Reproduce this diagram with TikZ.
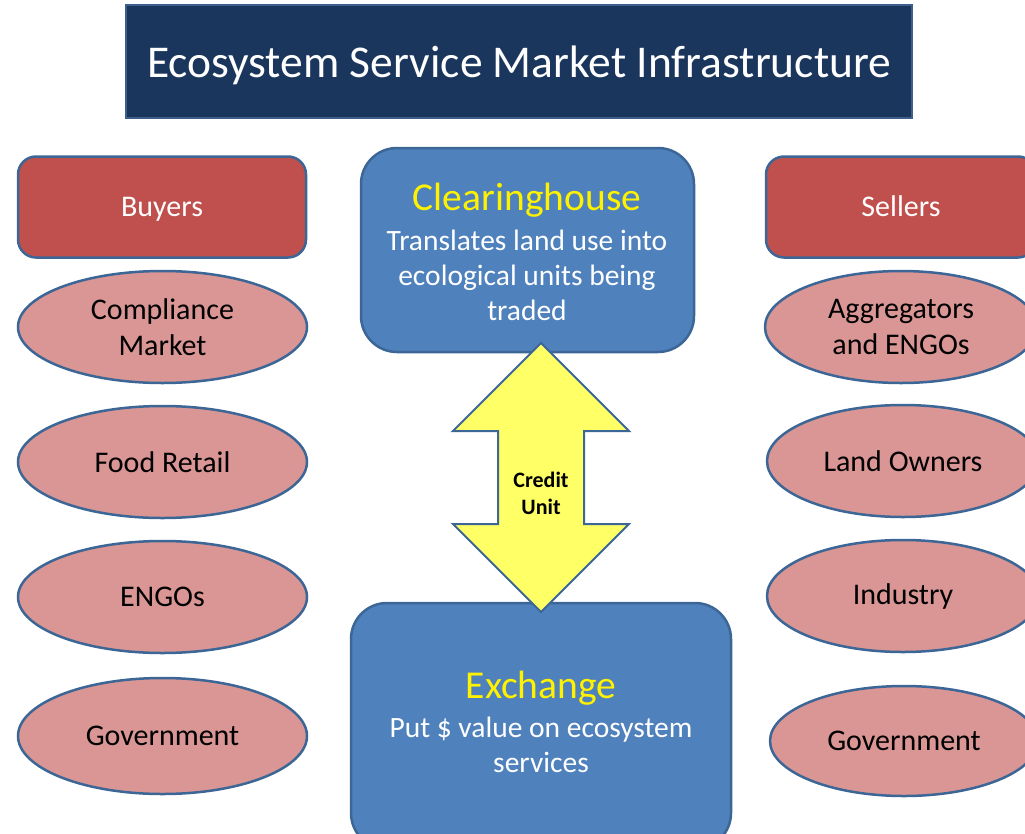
\documentclass[tikz,border=0pt]{standalone}
\usepackage{fontspec}
\setmainfont{Carlito}
\usetikzlibrary{positioning, shapes.geometric}
\definecolor{cNAVY}{HTML}{1B365D}
\definecolor{cFRAME}{HTML}{3E5F8A}
\definecolor{cEDGE}{HTML}{3C6696}
\definecolor{cRED}{HTML}{C0504D}
\definecolor{cPINK}{HTML}{D99694}
\definecolor{cHUB}{HTML}{4F81BD}
\definecolor{cARROW}{HTML}{FFFF66}

\begin{document}
\begin{tikzpicture}[
  x=1pt, y=-1pt,
  every node/.style={inner sep=0pt},
  header/.style={draw=cEDGE, line width=2.5pt, fill=cRED, rounded corners=18pt,
    minimum height=101pt, text height=19pt, text depth=0pt, text=white,
    font=\fontsize{30}{36}\selectfont},
  party/.style={ellipse, draw=cEDGE, line width=2.5pt, fill=cPINK,
    minimum height=112pt, align=center, font=\fontsize{30}{36}\selectfont},
  hub/.style={draw=cEDGE, line width=2.5pt, fill=cHUB, rounded corners=36pt},
  hubhead/.style={text=yellow, font=\fontsize{39.5}{46}\selectfont},
  hubtext/.style={text=white, align=center, font=\fontsize{29.5}{35}\selectfont},
]
\useasboundingbox (0,0) rectangle (1025,833);
\clip (0,0) rectangle (1025,833);

% title bar
\node[draw=cFRAME, line width=2pt, fill=cNAVY, minimum width=786pt, minimum height=113pt]
  (title) at (519,61.5) {};
\node[text=white, font=\fontsize{45.5}{52}\selectfont] (titletext) at (519,65)
  {Ecosystem Service Market Infrastructure};

% buyers
\node[header, minimum width=288pt] (buyers) at (162,207) {Buyers};
\node[party, minimum width=289pt] (cmpl) at (162.5,327) {Compliance\\Market};
\node[party, minimum width=289pt] (food) at (162.5,462) {Food Retail};
\node[party, minimum width=289pt] (engo) at (162.5,597) {ENGOs};
\node[party, minimum width=289pt, minimum height=116pt] (govb) at (162.5,736) {Government};

% sellers
\node[header, minimum width=270pt] (sellers) at (901,207) {Sellers};
\node[party, minimum width=272pt] (aggr) at (901,327) {Aggregators\\and ENGOs};
\node[party, minimum width=272pt] (land) at (903,461) {Land Owners};
\node[party, minimum width=272pt] (indu) at (903,596) {Industry};
\node[party, minimum width=268pt, minimum height=110pt] (govs) at (904,741) {Government};

% clearinghouse and exchange
\node[hub, minimum width=333pt, minimum height=204pt] (clr) at (527.5,250) {};
\node[hubhead] (clrhead) at (527,200) {Clearinghouse};
\node[hubtext] (clrtext) at (527,275) {Translates land use into\\ecological units being\\traded};

\node[hub, minimum width=380pt, minimum height=246pt] (exch) at (541,726) {};
\node[hubhead] (exchhead) at (541,688) {Exchange};
\node[hubtext] (exchtext) at (541,745) {Put \$ value on ecosystem\\services};

% credit unit arrow between the two
\coordinate (mid) at (541,477);
\draw[cEDGE, line width=2pt, fill=cARROW, line join=miter]
  (mid) ++(0,-134) -- ++(88,88) -- ++(-45,0) -- ++(0,93) -- ++(45,0)
  -- ++(-88,88) -- ++(-88,-88) -- ++(45,0) -- ++(0,-93) -- ++(-45,0) -- cycle;
\node[align=center, font=\fontsize{22}{27}\selectfont\bfseries] (credit) at (541,493)
  {Credit\\Unit};
\end{tikzpicture}
\end{document}
